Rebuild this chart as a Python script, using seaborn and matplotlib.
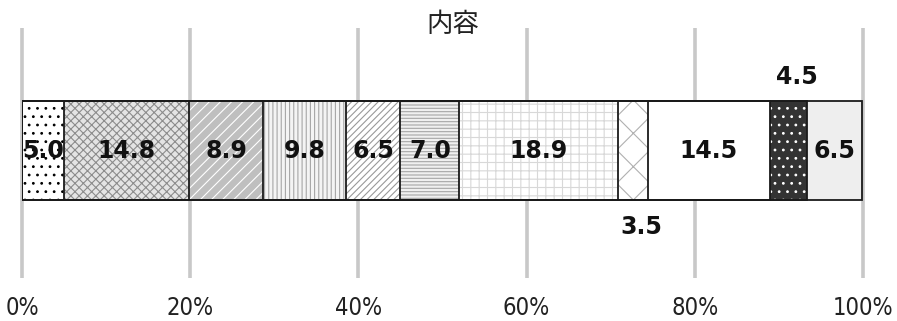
import numpy as np
import pandas as pd
import matplotlib
matplotlib.use("Agg")
import matplotlib.pyplot as plt
import seaborn as sns

# Share of each item (percent), left to right
categories = ["A", "B", "C", "D", "E", "F", "G", "H", "I", "J", "K"]
values = [5.0, 14.8, 8.9, 9.8, 6.5, 7.0, 18.9, 3.5, 14.5, 4.5, 6.5]
tick_values = [0, 20, 40, 60, 80, 100]
tick_labels = [f"{t}%" for t in tick_values]
title = "内容"
row_label = "内容"

# Fill, hatch pattern and hatch colour for each segment
face_colors = ["#ffffff", "#e4e4e4", "#bfbfbf", "#f4f4f4", "#ffffff", "#f0f0f0",
               "#ffffff", "#ffffff", "#ffffff", "#333333", "#eeeeee"]
hatches = ["..", "xxxx", "///", "||||", "/////", "-----", "++", "x", "", "..", ""]
hatch_colors = ["#000000", "#8c8c8c", "#ffffff", "#a6a6a6", "#999999", "#a6a6a6",
                "#d8d8d8", "#b0b0b0", "#ffffff", "#ffffff", "#eeeeee"]
# Label placement: 0 = inside, -1 = below, +1 = above
label_side = [0, 0, 0, 0, 0, 0, 0, -1, 0, 1, 0]

sns.set_theme(style="white")
plt.rcParams["hatch.linewidth"] = 0.8

fig = plt.figure(figsize=(8.97, 3.21), dpi=100)
ax = fig.add_axes([22 / 897, 1 - 278 / 321, (863 - 22) / 897, (278 - 28) / 321])

df = pd.DataFrame({"item": categories, "value": values})
df["end"] = df["value"].cumsum()
df["start"] = df["end"] - df["value"]
df["row"] = row_label

# Background grid
ax.vlines(tick_values, 0, 1, transform=ax.get_xaxis_transform(),
          colors="#c8c8c8", linewidth=2.6, zorder=0, clip_on=False)

bar_w = 0.79
# Stacked bar: cumulative bars drawn from the longest to the shortest
for i in reversed(range(len(df))):
    sub = df.iloc[[i]]
    sns.barplot(data=sub, x="end", y="row", orient="h", color=face_colors[i],
                saturation=1, hatch=hatches[i], edgecolor=hatch_colors[i],
                linewidth=0, width=bar_w, ax=ax, zorder=2)
for i in reversed(range(len(df))):
    sub = df.iloc[[i]]
    sns.barplot(data=sub, x="end", y="row", orient="h", fill=False,
                edgecolor="#1a1a1a", linewidth=1.3, width=bar_w, ax=ax, zorder=3)

ax.set_xlim(0, 100)
ax.set_ylim(1.02, -0.98)

# Value labels
for _, r in df.iterrows():
    i = categories.index(r["item"])
    xc = (r["start"] + r["end"]) / 2
    side = label_side[i]
    if side == 0:
        ax.annotate(f"{r['value']:.1f}", (xc, 0), ha="center", va="center",
                    fontsize=17, fontweight="bold", color="#111111", zorder=5)
    else:
        dy = -bar_w / 2 - 0.19 if side > 0 else bar_w / 2 + 0.22
        ax.annotate(f"{r['value']:.1f}", (xc, dy), xytext=(6, 0),
                    textcoords="offset points", ha="center", va="center",
                    fontsize=17, fontweight="bold", color="#111111", zorder=5)

ax.set_xticks(tick_values)
ax.set_xticklabels(tick_labels,
                   family=["Liberation Sans Narrow", "DejaVu Sans Condensed", "DejaVu Sans"],
                   fontstretch="condensed", fontsize=17, color="#222222")
ax.tick_params(axis="x", length=0, pad=13)
ax.set_yticks([])
ax.set_xlabel("")
ax.set_ylabel("")
for s in ax.spines.values():
    s.set_visible(False)

fig.text(453 / 897, 1 - 24 / 321, title, ha="center", va="center", fontsize=19,
         family=["Noto Sans CJK JP", "DejaVu Sans"], color="#222222")

fig.savefig("out.png", dpi=100)
